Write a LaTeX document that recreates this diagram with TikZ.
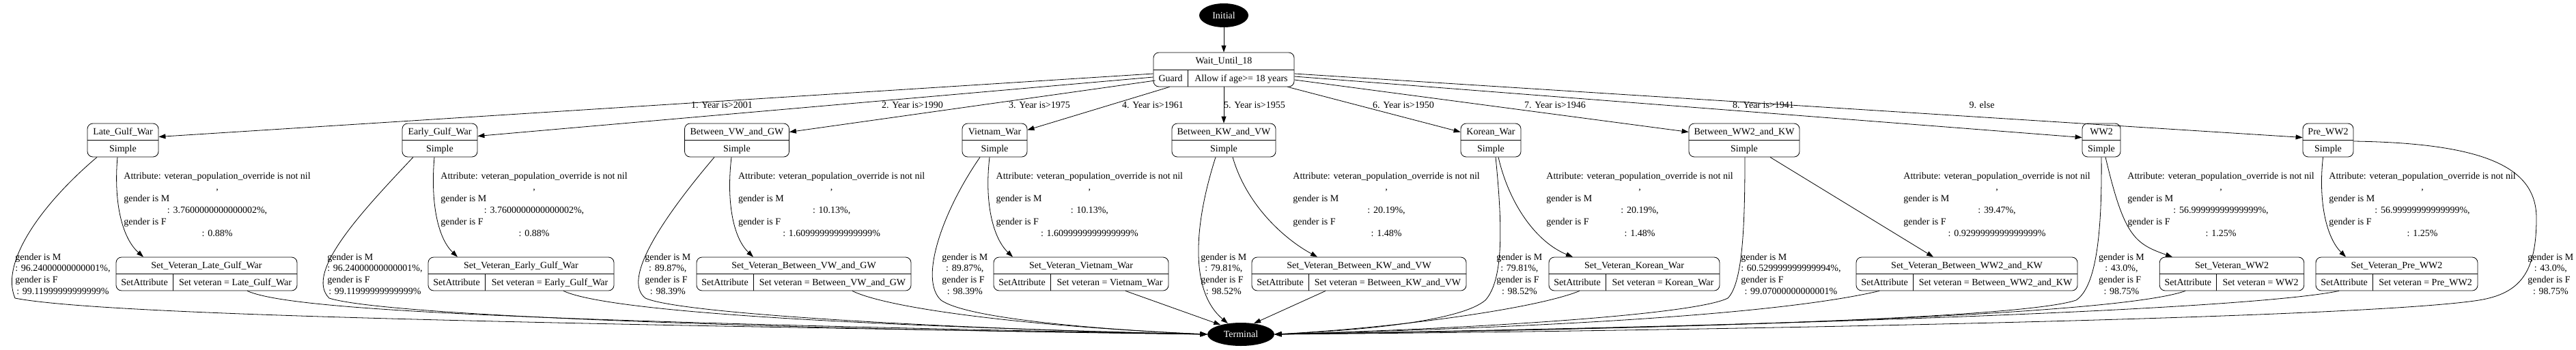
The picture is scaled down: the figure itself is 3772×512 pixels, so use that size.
\documentclass[tikz,border=0pt]{standalone}
\usepackage{fontspec}
\setmainfont{Liberation Serif}
\usetikzlibrary{shapes.geometric,arrows.meta}
\newcommand{\attrtext}[2]{\begin{tabular}{@{}c@{}}Attribute: veteran\_population\_override is not nil\\,\\\multicolumn{1}{@{}l@{}}{gender is M}\\: #1\%,\\\multicolumn{1}{@{}l@{}}{gender is F}\\: #2\%\end{tabular}}
\newcommand{\gendertext}[2]{\begin{tabular}{@{}c@{}}\multicolumn{1}{@{}l@{}}{gender is M}\\: #1\%,\\\multicolumn{1}{@{}l@{}}{gender is F}\\: #2\%\end{tabular}}
\begin{document}
\begin{tikzpicture}[x=1pt,y=-1pt,line width=0.8pt,font=\fontsize{14}{16.8}\selectfont,
box/.style={draw,rounded corners=8pt,minimum height=49pt,inner sep=0pt},
txt/.style={anchor=base,inner sep=0pt},
term/.style={ellipse,fill=black,text=white,inner sep=0pt},
lab/.style={anchor=north west,inner sep=0pt},
arr/.style={-{Triangle[length=10pt,width=7pt]}}]
\useasboundingbox (0,0) rectangle (3772,512);
% Draw the start, the wait state and the end
\node[term,minimum width=72pt,minimum height=35pt] (init) at (1792,22.5) {Initial};
\node[box,minimum width=206pt,minimum height=50pt] (wait) at (1792,102) {};
\draw (wait.west) -- (wait.east);
\draw ([xshift=51pt]wait.south west) -- ([xshift=51pt]wait.west);
\node[txt] (wait-title) at ([yshift=-17.2pt]wait.north) {Wait\_Until\_18};
\node[txt] (wait-guard) at ([xshift=25.5pt,yshift=7.7pt]wait.south west) {Guard};
\node[txt] (wait-cond) at ([xshift=25.5pt,yshift=7.7pt]wait.south) {Allow if age>= 18 years};
\node[term,minimum width=98pt,minimum height=34pt] (terminal) at (1817,490) {Terminal};
\draw[arr] (init) -- (wait);
% Draw the war states
\foreach \nm/\cx/\w/\ttl in {late/180/104/Late\_Gulf\_War,early/644/110/Early\_Gulf\_War,
vwgw/1079/153/Between\_VW\_and\_GW,vietnam/1456.5/95/Vietnam\_War,kwvw/1792/152/Between\_KW\_and\_VW,
korean/2183/88/Korean\_War,ww2kw/2554/162/Between\_WW2\_and\_KW,ww2/3077/56/WW2,pre/3409/74/Pre\_WW2}
{
\node[box,minimum width=\w pt] (\nm) at (\cx,205.5) {};
\draw (\nm.west) -- (\nm.east);
\node[txt] (\nm-title) at ([yshift=-17.2pt]\nm.north) {\ttl};
\node[txt] (\nm-kind) at ([yshift=7.5pt]\nm.south) {Simple};
}
% Draw the set attribute states
\foreach \nm/\cx/\w/\ttl in {late/302.5/265/Late\_Gulf\_War,early/763/272/Early\_Gulf\_War,
vwgw/1177/314/Between\_VW\_and\_GW,vietnam/1583/256/Vietnam\_War,kwvw/1990/314/Between\_KW\_and\_VW,
korean/2393/250/Korean\_War,ww2kw/2880/324/Between\_WW2\_and\_KW,ww2/3268/211.5/WW2,pre/3509.5/237/Pre\_WW2}
{
\node[box,minimum width=\w pt] (set\nm) at (\cx,401.5) {};
\draw (set\nm.west) -- (set\nm.east);
\draw ([xshift=84pt]set\nm.south west) -- ([xshift=84pt]set\nm.west);
\node[txt] (set\nm-title) at ([yshift=-17.2pt]set\nm.north) {Set\_Veteran\_\ttl};
\node[txt] (set\nm-kind) at ([xshift=42pt,yshift=7.5pt]set\nm.south west) {SetAttribute};
\node[txt] (set\nm-act) at ([xshift=42pt,yshift=7.5pt]set\nm.south) {Set veteran = \ttl};
}
% Transitions out of the wait state
\draw[arr] ([yshift=-6pt]wait.west) -- ([yshift=5pt]late.east);
\draw[arr] ([yshift=-11pt]wait.west) -- ([yshift=6pt]early.east);
\draw[arr] ([xshift=3pt,yshift=-16pt]wait.west) -- ([yshift=12pt]vwgw.east);
\draw[arr] ([xshift=24pt]wait.south west) -- ([yshift=15pt]vietnam.east);
\draw[arr] (wait) -- (kwvw);
\draw[arr] ([xshift=-10pt]wait.south east) -- ([yshift=12pt]korean.west);
\draw[arr] ([yshift=-15pt]wait.east) -- ([yshift=12pt]ww2kw.west);
\draw[arr] ([yshift=-10pt]wait.east) -- ([yshift=4pt]ww2.west);
\draw[arr] ([yshift=-6pt]wait.east) -- ([yshift=4pt]pre.west);
\foreach \i/\cx/\ttl in {1/1057/1. Year is>2001,2/1336/2. Year is>1990,3/1522/3. Year is>1975,
4/1688/4. Year is>1961,5/1837/5. Year is>1955,6/2055/6. Year is>1950,7/2277/7. Year is>1946,
8/2582/8. Year is>1941,9/2902/9. else}
\node[txt] (cond\i) at (\cx,158) {\ttl};
% Transitions to the set attribute states
\draw[arr] ([xshift=-8pt]late.south) .. controls (166,300) and (180,350) .. ([xshift=-92.5pt]setlate.north);
\draw[arr] ([xshift=-8pt]early.south) .. controls (630,300) and (642,350) .. ([xshift=-93pt]setearly.north);
\draw[arr] ([xshift=-8pt]vwgw.south) .. controls (1063,300) and (1075,350) .. ([xshift=-74pt]setvwgw.north);
\draw[arr] ([xshift=-7.5pt]vietnam.south) .. controls (1441,300) and (1455,350) .. ([xshift=-100pt]setvietnam.north);
\draw[arr] ([xshift=13pt]kwvw.south) .. controls (1825,300) and (1880,350) .. ([xshift=-61pt]setkwvw.north);
\draw[arr] ([xshift=11pt]korean.south) .. controls (2210,300) and (2250,355) .. ([xshift=-90pt]setkorean.north);
\draw[arr] ([xshift=38pt]ww2kw.south) -- ([xshift=-49pt]setww2kw.north);
\draw[arr] ([xshift=6pt]ww2.south) .. controls (3110,345) and (3125,357) .. ([xshift=-87pt]setww2.north);
\draw[arr] ([xshift=-7.5pt]pre.south) .. controls (3394,300) and (3408,350) .. ([xshift=-74.5pt]setpre.north);
\foreach \nm/\x/\mval/\fval in {late/181/3.7600000000000002/0.88,early/645/3.7600000000000002/0.88,
vwgw/1080.6/10.13/1.6099999999999999,vietnam/1458.3/10.13/1.6099999999999999,kwvw/1893/20.19/1.48,
korean/2264/20.19/1.48,ww2kw/2787/39.47/0.9299999999999999,ww2/3115/56.99999999999999/1.25,pre/3410/56.99999999999999/1.25}
\node[lab] (\nm-attr) at (\x,250) {\attrtext{\mval}{\fval}};
% Transitions to the terminal
\draw[arr] ([xshift=-38pt]late.south) .. controls (60,300) and (0,385) .. (22,437) .. controls (150,462) and (800,475) .. (terminal.west);
\draw[arr] ([xshift=59.5pt]setlate.south) .. controls (420,452) and (700,470) .. (terminal.west);
\draw[arr] ([xshift=-39pt]early.south) .. controls (530,310) and (445,400) .. (482,437) .. controls (560,462) and (1100,482) .. (terminal.west);
\draw[arr] ([xshift=62pt]setearly.south) .. controls (880,452) and (1150,475) .. (terminal.west);
\draw[arr] ([xshift=-33pt]vwgw.south) .. controls (970,320) and (910,410) .. (945,437) .. controls (1000,462) and (1450,484) .. (terminal.west);
\draw[arr] ([xshift=71pt]setvwgw.south) .. controls (1300,452) and (1500,478) .. (terminal.west);
\draw[arr] ([xshift=-21.5pt]vietnam.south) .. controls (1380,310) and (1345,410) .. (1378,440) .. controls (1420,470) and (1650,485) .. (terminal.west);
\draw[arr] ([xshift=65pt]setvietnam.south) -- (terminal.155);
\draw[arr] ([xshift=-12pt]kwvw.south) .. controls (1745,340) and (1745,430) .. (terminal.140);
\draw[arr] ([xshift=-49pt]setkwvw.south) -- (terminal.40);
\draw[arr] ([xshift=7pt]korean.south) .. controls (2200,330) and (2202,410) .. (2175,440) .. controls (2140,470) and (2000,484) .. (terminal.east);
\draw[arr] ([xshift=-80pt]setkorean.south) .. controls (2250,452) and (2050,480) .. (terminal.east);
\draw[arr] ([xshift=1pt]ww2kw.south) .. controls (2555,330) and (2552,415) .. (2530,437) .. controls (2480,462) and (2150,482) .. (terminal.east);
\draw[arr] ([xshift=-128pt]setww2kw.south) .. controls (2600,462) and (2250,480) .. (terminal.east);
\draw[arr] (ww2.south) .. controls (3078,340) and (3070,420) .. (3040,440) .. controls (2950,470) and (2300,484) .. (terminal.east);
\draw[arr] ([xshift=-68pt]setww2.south) .. controls (3120,455) and (2700,478) .. (terminal.east);
\draw[arr] ([xshift=-84.5pt]setpre.south) .. controls (3300,452) and (2700,476) .. (terminal.east);
\draw[arr] ([yshift=-1.5pt]pre.east) .. controls (3650,210) and (3714,250) .. (3714,320) .. controls (3714,400) and (3690,430) .. (3630,440) .. controls (3450,468) and (2400,486) .. (terminal.east);
\foreach \nm/\x/\mval/\fval in {late/22/96.24000000000001/99.11999999999999,early/479/96.24000000000001/99.11999999999999,
vwgw/944/89.87/98.39,vietnam/1379/89.87/98.39,kwvw/1758/79.81/98.52,korean/2191/79.81/98.52,
ww2kw/2549/60.529999999999994/99.07000000000001,ww2/3072.6/43.0/98.75,pre/3701/43.0/98.75}
\node[lab] (\nm-gender) at (\x,369) {\gendertext{\mval}{\fval}};
\end{tikzpicture}
\end{document}
